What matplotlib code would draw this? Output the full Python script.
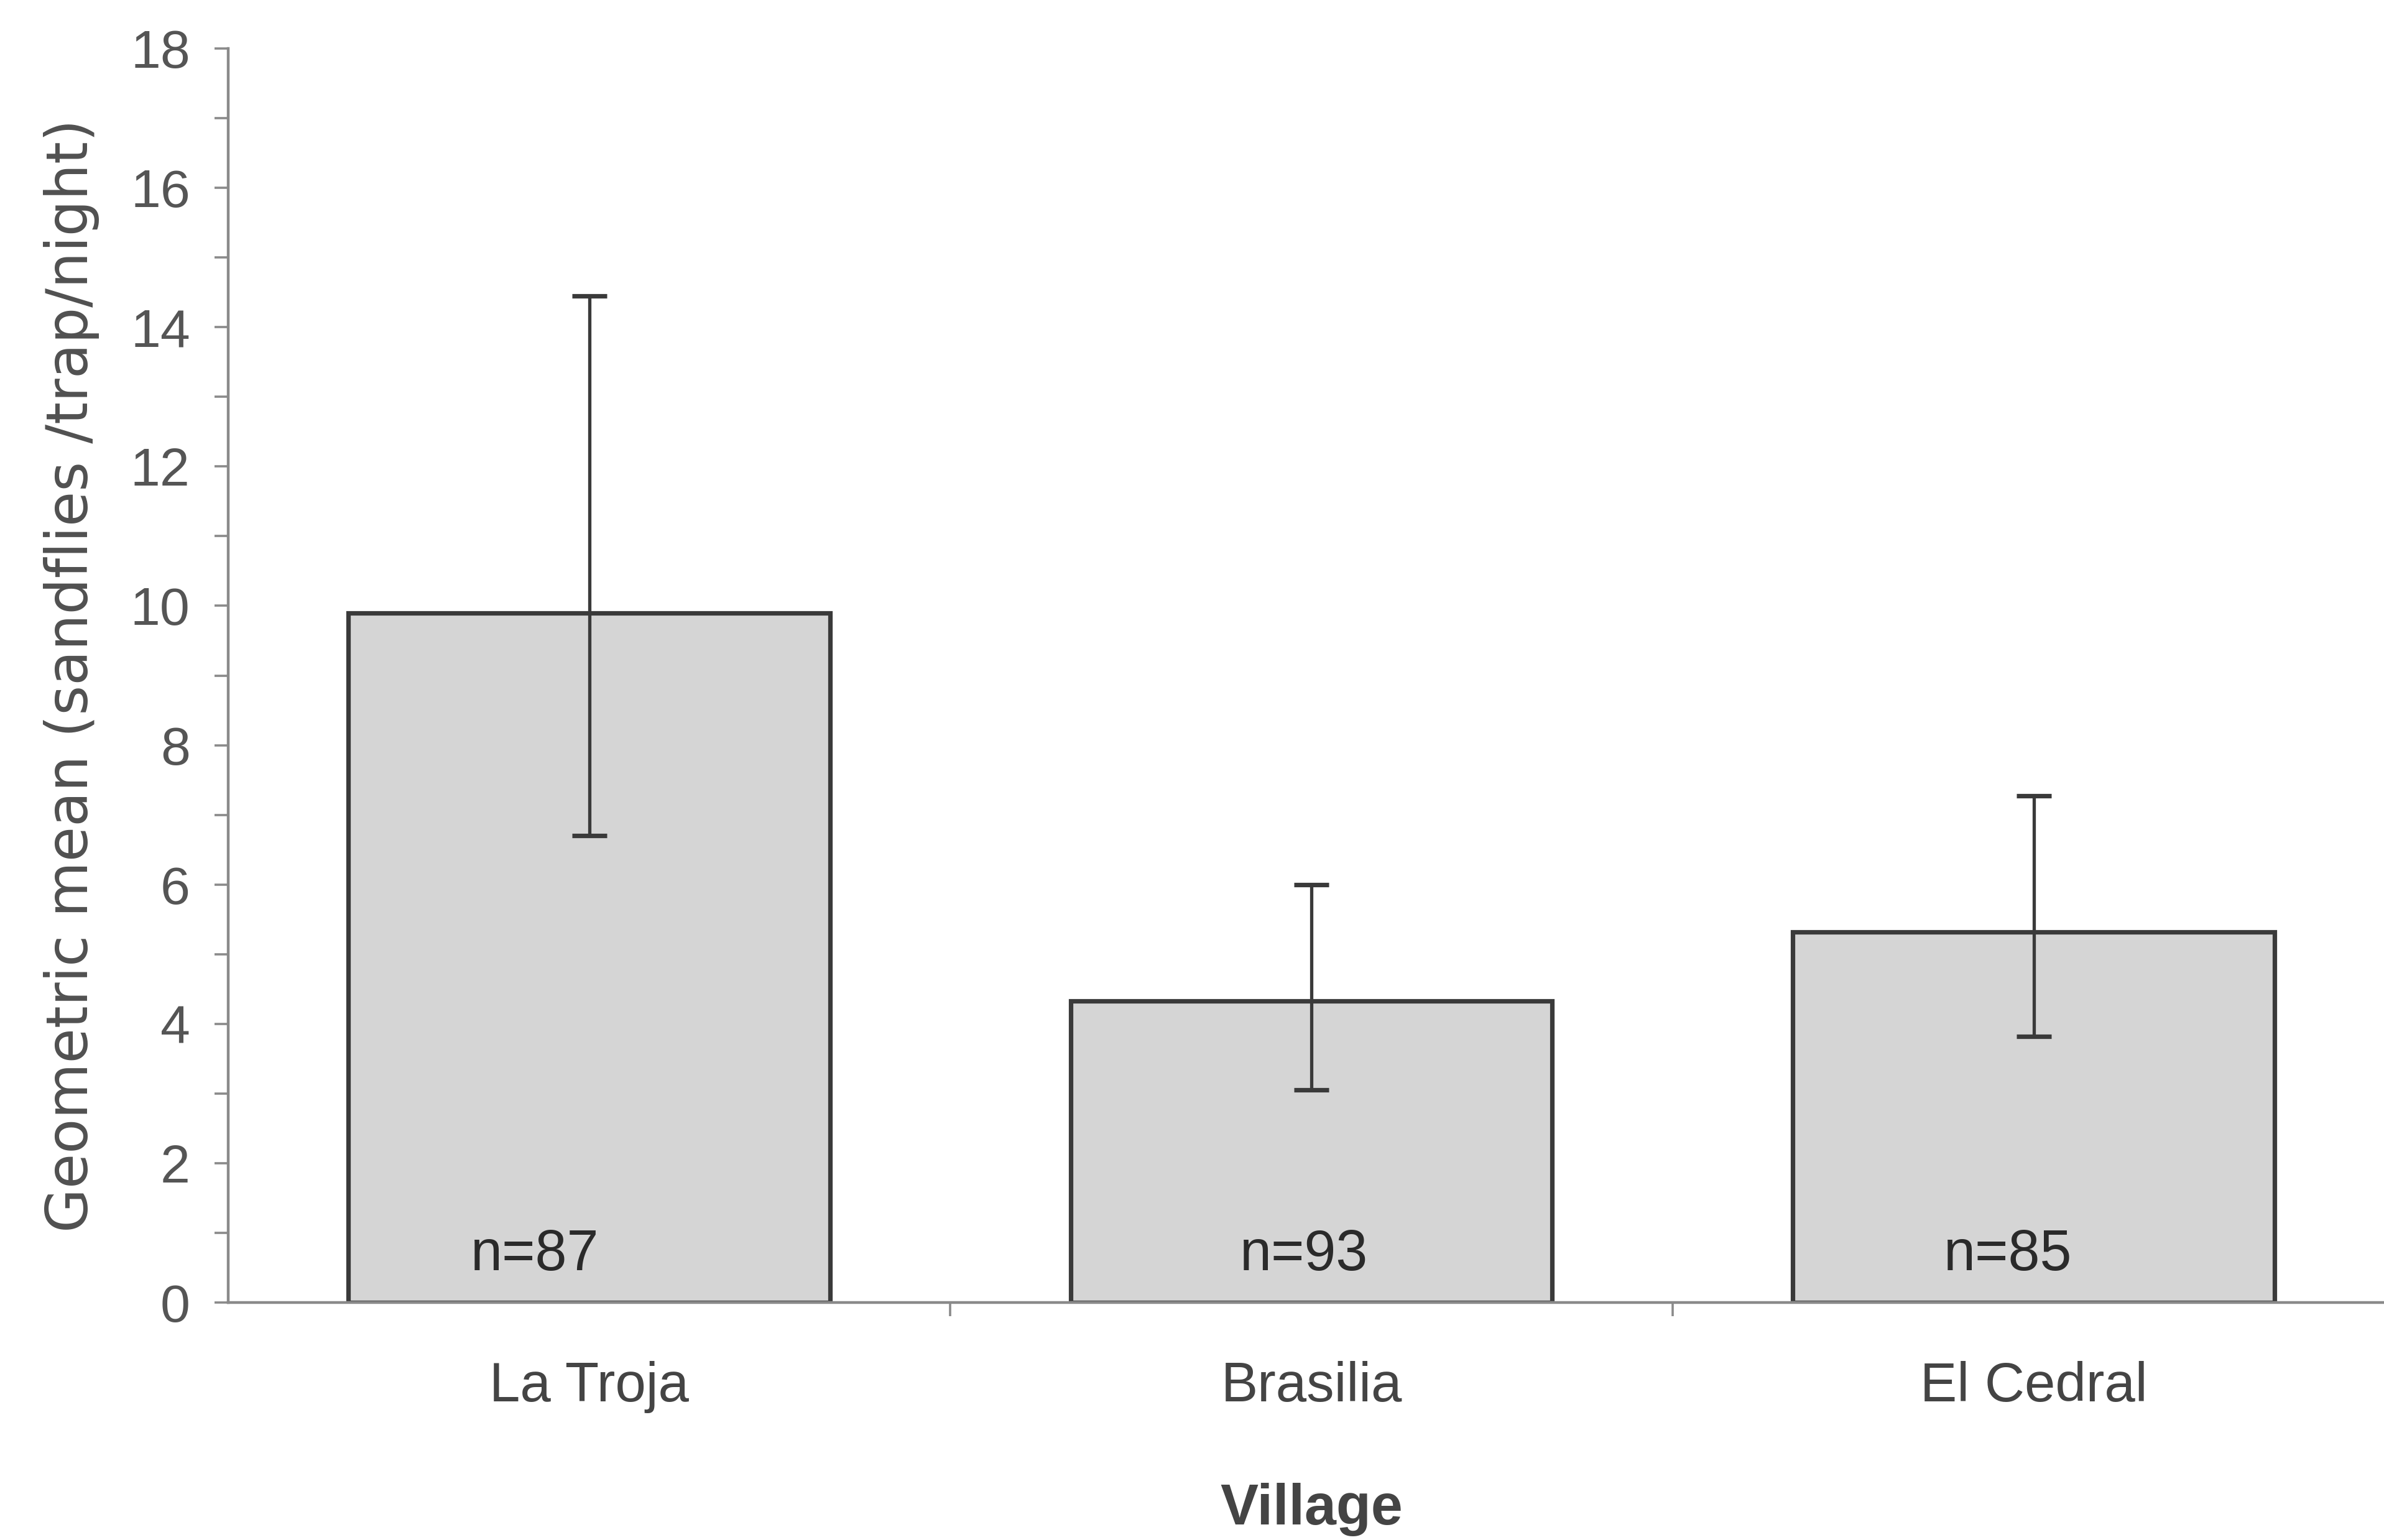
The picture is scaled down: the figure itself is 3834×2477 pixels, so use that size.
import numpy as np
import matplotlib
matplotlib.use("Agg")
import matplotlib.pyplot as plt
from matplotlib.ticker import MultipleLocator, FixedLocator

plt.rcParams['font.family'] = ['Liberation Sans', 'DejaVu Sans']

# data
villages = ["La Troja", "Brasilia", "El Cedral"]
geo_mean = [9.9, 4.33, 5.32]
ci_low = [6.7, 3.05, 3.82]
ci_high = [14.45, 6.0, 7.27]
n_labels = ["n=87", "n=93", "n=85"]

# small horizontal nudges of the n= labels, as in the original
label_dx = [-0.075, -0.01, -0.036]

FIGWIDTH = 3834 / 200
FIGHEIGHT = 2477 / 200

fig = plt.figure(figsize=(FIGWIDTH, FIGHEIGHT), dpi=200)
ax = fig.add_axes([0.0957, 0.1542, 0.9088, 0.8143])

x = np.arange(len(villages))
yerr = [np.array(geo_mean) - np.array(ci_low), np.array(ci_high) - np.array(geo_mean)]

ax.bar(x, geo_mean, width=2/3, color='#d5d5d5', edgecolor='#3a3a3a', linewidth=2.6, zorder=2)
ax.errorbar(x, geo_mean, yerr=yerr, fmt='none', ecolor='#3a3a3a', elinewidth=1.9,
            capsize=10, capthick=2.6, zorder=3)

for i, lab in enumerate(n_labels):
    ax.text(x[i] + label_dx[i], 0.68, lab, ha='center', va='center', fontsize=33,
            color='#2a2a2a', zorder=4)

ax.set_xlim(-0.5, 2.5)
ax.set_ylim(0, 18)
ax.yaxis.set_major_locator(MultipleLocator(2))
ax.yaxis.set_minor_locator(MultipleLocator(1))
ax.set_xticks(x)
ax.set_xticklabels(villages)
ax.xaxis.set_minor_locator(FixedLocator([0.5, 1.5]))

for s in ['top', 'right']:
    ax.spines[s].set_visible(False)
for s in ['left', 'bottom']:
    ax.spines[s].set_color('#8a8a8a')
    ax.spines[s].set_linewidth(1.6)

ax.tick_params(axis='y', which='both', direction='out', length=8, width=1.3, color='#8a8a8a',
               labelsize=31, labelcolor='#555555', pad=14)
ax.tick_params(axis='x', which='major', length=0, labelsize=32, labelcolor='#444444', pad=34)
ax.tick_params(axis='x', which='minor', direction='out', length=8, width=1.3, color='#8a8a8a')

ax.set_ylabel("Geometric mean (sandflies /trap/night)", fontsize=33, color='#505050',
              labelpad=18, family=['DejaVu Sans'])
ax.set_xlabel("Village", fontsize=33, fontweight='bold', color='#444444', labelpad=40)

fig.savefig("out.png", dpi=200)
